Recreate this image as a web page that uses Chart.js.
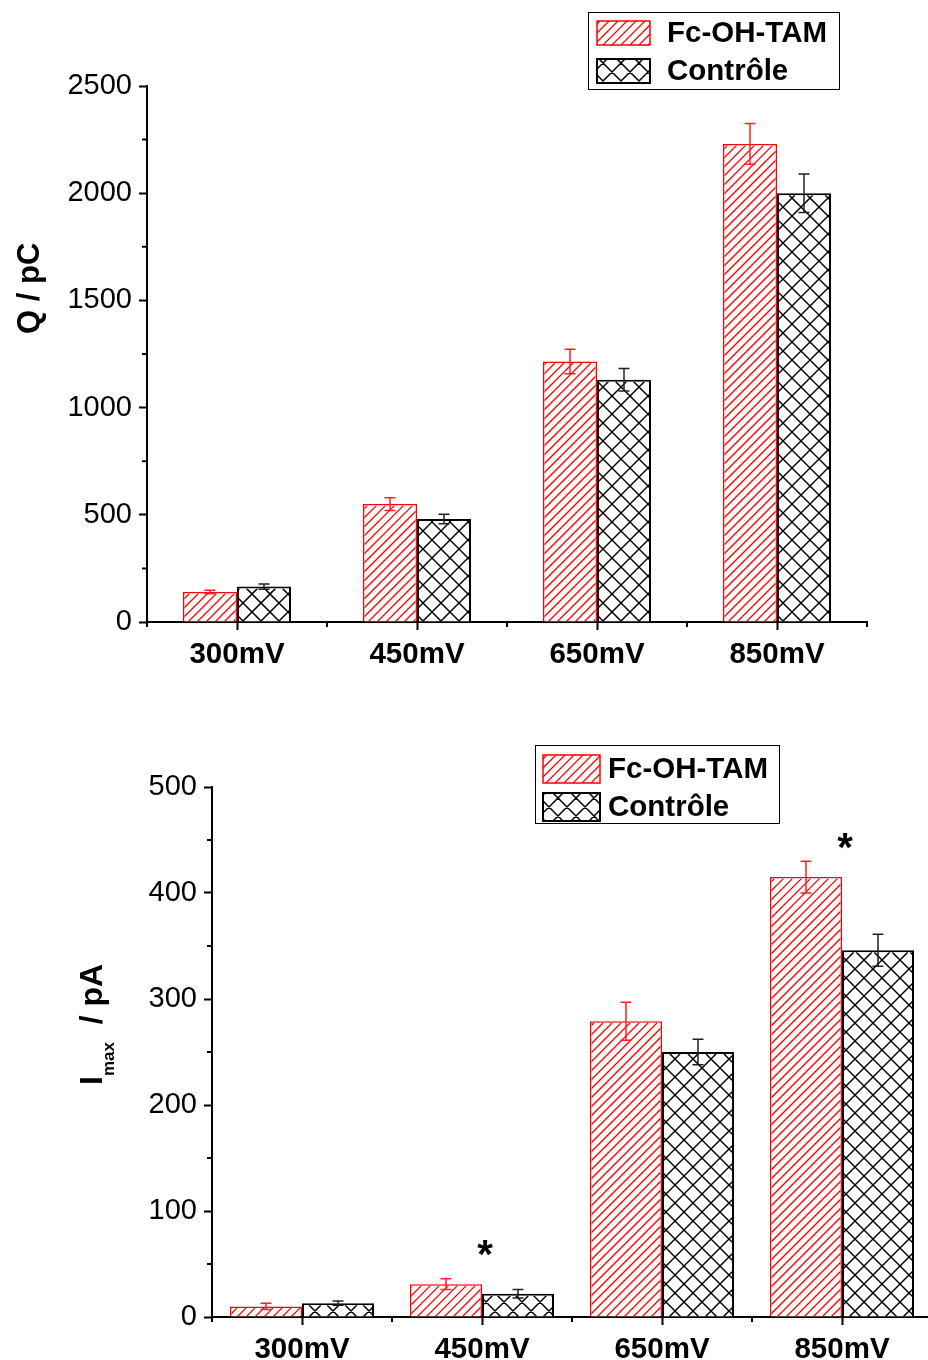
<!DOCTYPE html>
<html>
<head>
<meta charset="utf-8">
<script src="https://cdn.jsdelivr.net/npm/chart.js@4.4.1/dist/chart.umd.min.js"></script>
<style>
  html, body { margin: 0; padding: 0; background: #fff; width: 928px; height: 1360px; overflow: hidden; }
  #top-wrap { position: absolute; left: 0; top: 0; width: 928px; height: 690px; }
  #bottom-wrap { position: absolute; left: 0; top: 690px; width: 928px; height: 670px; overflow: hidden; }
</style>
</head>
<body>
<div id="top-wrap"><canvas id="charge-chart" width="928" height="690"></canvas></div>
<div id="bottom-wrap"><canvas id="current-chart" width="940" height="670"></canvas></div>
<script>
// ================================================================ data

const potentials = ["300mV", "450mV", "650mV", "850mV"];
const seriesNames = ["Fc-OH-TAM", "Contrôle"];

// charge Q (pC)
const chargeFc = [140, 550, 1215, 2230];
const chargeFcErr = [8, 30, 57, 95];
const chargeCtrl = [165, 480, 1130, 2000];
const chargeCtrlErr = [12, 22, 52, 90];
const chargeTicks = [0, 500, 1000, 1500, 2000, 2500];

// peak current Imax (pA)
const currentFc = [10, 31, 279, 415];
const currentFcErr = [3, 5, 18, 15];
const currentCtrl = [13, 22, 250, 346];
const currentCtrlErr = [2, 4, 12, 15];
const currentTicks = [0, 100, 200, 300, 400, 500];
// where the significance stars sit (null = none)
const currentStars = [null, 63, null, 447];

const FONT = "'Liberation Sans', Arial, sans-serif";
Chart.defaults.font.family = FONT;
Chart.defaults.color = "#000";

// ================================================================ hatching

// "/" lines (x + y = c), plus "\" lines when cross is set
function hatchRect(ctx, l, t, r, b, h) {
  ctx.save();
  ctx.beginPath();
  ctx.rect(l, t, r - l, b - t);
  ctx.clip();
  ctx.strokeStyle = h.color;
  ctx.lineWidth = h.lw;
  ctx.beginPath();
  const p = h.period;
  for (let c = Math.floor((l + t) / p) * p; c <= r + b; c += p) {
    ctx.moveTo(c - b, b);
    ctx.lineTo(c - t, t);
  }
  if (h.cross) {
    for (let c = Math.floor((l - b) / p) * p; c <= r - t; c += p) {
      ctx.moveTo(c + t, t);
      ctx.lineTo(c + b, b);
    }
  }
  ctx.stroke();
  ctx.restore();
}

// ================================================================ plugin

// hatch, error bars, minor ticks, legend box, axis title, stars
const extrasPlugin = {
  id: "extras",
  afterDatasetsDraw(chart, args, opts) {
    const ctx = chart.ctx;
    const y = chart.scales.y;
    const x = chart.scales.x;

    // hatch inside each bar
    chart.data.datasets.forEach((ds, di) => {
      const meta = chart.getDatasetMeta(di);
      const bw = ds.borderWidth;
      meta.data.forEach(bar => {
        const p = bar.getProps(["x", "y", "base", "width"], true);
        const top = Math.min(p.y, p.base), bot = Math.max(p.y, p.base);
        hatchRect(ctx, p.x - p.width / 2 + bw, top + bw, p.x + p.width / 2 - bw, bot, ds.hatch);
      });
    });

    ctx.save();
    // error bars
    chart.data.datasets.forEach((ds, di) => {
      const meta = chart.getDatasetMeta(di);
      ctx.strokeStyle = ds.errorColor;
      ctx.lineWidth = 1.5;
      meta.data.forEach((bar, i) => {
        const v = ds.data[i], e = ds.errors[i];
        const yt = y.getPixelForValue(v + e), yb = y.getPixelForValue(v - e);
        ctx.beginPath();
        ctx.moveTo(bar.x, yt); ctx.lineTo(bar.x, yb);
        ctx.moveTo(bar.x - 5.5, yt); ctx.lineTo(bar.x + 5.5, yt);
        ctx.moveTo(bar.x - 5.5, yb); ctx.lineTo(bar.x + 5.5, yb);
        ctx.stroke();
      });
    });

    // minor ticks
    ctx.strokeStyle = "#000";
    ctx.lineWidth = 2;
    const step = opts.majorStep;
    ctx.beginPath();
    for (let v = step / 2; v < y.max; v += step) {
      const py = y.getPixelForValue(v);
      ctx.moveTo(x.left, py); ctx.lineTo(x.left - 5, py);
    }
    for (let i = 0; i <= potentials.length; i++) {
      const px = x.getPixelForValue(i - 0.5);
      ctx.moveTo(px, y.bottom); ctx.lineTo(px, y.bottom + 5);
    }
    ctx.stroke();

    // stars
    if (opts.stars) {
      ctx.fillStyle = "#000";
      ctx.font = "bold 40px " + FONT;
      ctx.textAlign = "center";
      ctx.textBaseline = "middle";
      opts.stars.forEach((s, i) => {
        if (s === null) return;
        ctx.fillText("*", x.getPixelForValue(i) + 3, y.getPixelForValue(s) + 7);
      });
    }

    // legend
    const L = opts.legend;
    ctx.lineWidth = 1;
    ctx.strokeStyle = "#000";
    ctx.fillStyle = "#fff";
    ctx.fillRect(L.x, L.y, L.w, L.h);
    ctx.strokeRect(L.x + 0.5, L.y + 0.5, L.w, L.h);
    chart.data.datasets.forEach((ds, di) => {
      const sy = L.y + L.rows[di];
      const st = sy - L.sh / 2;
      hatchRect(ctx, L.sx, st, L.sx + L.sw, st + L.sh, ds.hatch);
      ctx.strokeStyle = ds.borderColor;
      ctx.lineWidth = di === 0 ? 1.5 : 2;
      ctx.strokeRect(L.sx, st, L.sw, L.sh);
      ctx.fillStyle = "#000";
      ctx.font = "bold 29.5px " + FONT;
      ctx.textAlign = "left";
      ctx.textBaseline = "middle";
      ctx.fillText(ds.label, L.tx, sy + 1);
    });

    // y title
    const T = opts.title;
    ctx.translate(T.x, T.y);
    ctx.rotate(-Math.PI / 2);
    ctx.fillStyle = "#000";
    ctx.textBaseline = "alphabetic";
    ctx.textAlign = "left";
    let cx = 0;
    T.parts.forEach(p => {
      ctx.font = "bold " + p.size + "px " + FONT;
      ctx.fillText(p.text, cx, p.dy || 0);
      cx += ctx.measureText(p.text).width;
    });
    ctx.restore();
  }
};

function axisSet(ticksList, yWidth, xHeight) {
  return {
    x: {
      offset: true,
      grid: { display: true, drawOnChartArea: false, drawTicks: true, offset: false,
              tickLength: 8, tickWidth: 2, tickColor: "#000" },
      border: { display: true, color: "#000", width: 2 },
      ticks: { font: { size: 29.5, weight: "bold" }, color: "#000", padding: 7 },
      afterFit: s => { s.height = xHeight; }
    },
    y: {
      min: ticksList[0],
      max: ticksList[ticksList.length - 1],
      grid: { display: true, drawOnChartArea: false, drawTicks: true,
              tickLength: 8, tickWidth: 2, tickColor: "#000" },
      border: { display: true, color: "#000", width: 2 },
      ticks: { stepSize: ticksList[1] - ticksList[0], font: { size: 29 }, color: "#000", padding: 7,
               callback: v => String(v) },
      afterFit: s => { s.width = yWidth; }
    }
  };
}

const redHatch = { color: "#ff0000", period: 9, cross: false, lw: 1.25 };
const blackHatch = { color: "#000", period: 18, cross: true, lw: 1.5 };

// ================================================================ charge chart

let chargeCanvas = document.getElementById("charge-chart");
let chargeData = {
  labels: potentials,
  datasets: [{
    label: seriesNames[0],
    data: chargeFc,
    errors: chargeFcErr,
    hatch: redHatch,
    backgroundColor: "#fff",
    borderColor: "#ff0000",
    errorColor: "#ff2020",
    borderWidth: 1.5,
    categoryPercentage: 0.6,
    barPercentage: 1.0
  }, {
    label: seriesNames[1],
    data: chargeCtrl,
    errors: chargeCtrlErr,
    hatch: blackHatch,
    backgroundColor: "#fff",
    borderColor: "#000",
    errorColor: "#222",
    borderWidth: 2,
    categoryPercentage: 0.6,
    barPercentage: 1.0
  }]
};

new Chart(chargeCanvas, {
  type: "bar",
  data: chargeData,
  options: {
    responsive: false,
    animation: false,
    layout: { padding: { top: 86, left: 0, right: 61, bottom: 0 } },
    scales: axisSet(chargeTicks, 147, 68),
    plugins: {
      legend: { display: false },
      tooltip: { enabled: false },
      extras: {
        majorStep: 500,
        legend: { x: 588, y: 12, w: 251, h: 77, sx: 597, sw: 53, sh: 24, tx: 667, rows: [21, 59] },
        title: { x: 39, y: 334, parts: [{ text: "Q / pC", size: 31 }] }
      }
    }
  },
  plugins: [extrasPlugin]
});

// ================================================================ current chart

let currentCanvas = document.getElementById("current-chart");
let currentData = {
  labels: potentials,
  datasets: [{
    label: seriesNames[0],
    data: currentFc,
    errors: currentFcErr,
    hatch: redHatch,
    backgroundColor: "#fff",
    borderColor: "#ff0000",
    errorColor: "#ff2020",
    borderWidth: 1.5,
    categoryPercentage: 0.8,
    barPercentage: 1.0
  }, {
    label: seriesNames[1],
    data: currentCtrl,
    errors: currentCtrlErr,
    hatch: blackHatch,
    backgroundColor: "#fff",
    borderColor: "#000",
    errorColor: "#222",
    borderWidth: 2,
    categoryPercentage: 0.8,
    barPercentage: 1.0
  }]
};

new Chart(currentCanvas, {
  type: "bar",
  data: currentData,
  options: {
    responsive: false,
    animation: false,
    layout: { padding: { top: 97, left: 0, right: 8, bottom: 0 } },
    scales: axisSet(currentTicks, 212, 43),
    plugins: {
      legend: { display: false },
      tooltip: { enabled: false },
      extras: {
        majorStep: 100,
        stars: currentStars,
        legend: { x: 535, y: 55, w: 244, h: 78, sx: 543, sw: 57, sh: 28, tx: 608, rows: [24, 62] },
        title: { x: 102, y: 395, parts: [
          { text: "I", size: 32 },
          { text: "max", size: 17, dy: 12 },
          { text: "  / pA", size: 32 }
        ] }
      }
    }
  },
  plugins: [extrasPlugin]
});
</script>
</body>
</html>
